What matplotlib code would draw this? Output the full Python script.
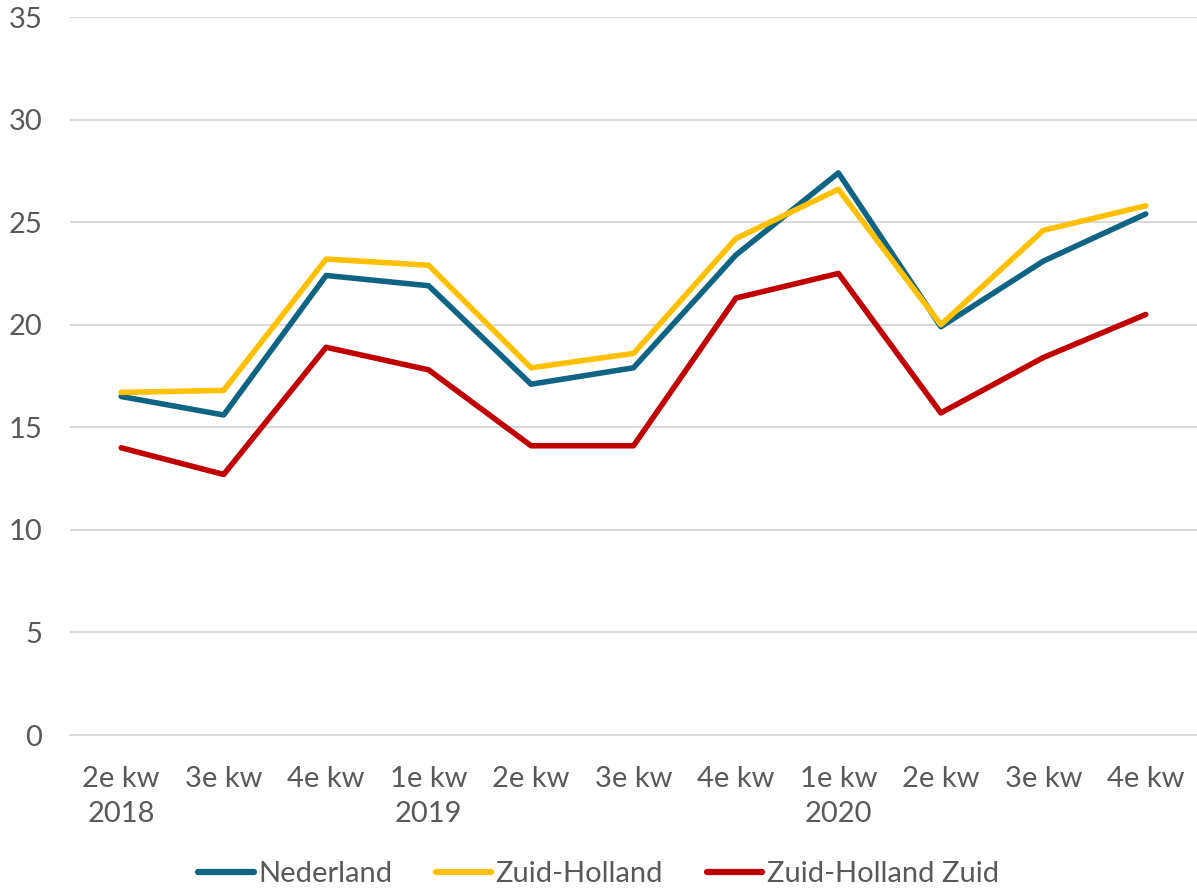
import matplotlib.pyplot as plt

plt.rcParams['font.family'] = ['Lato', 'DejaVu Sans']

kwartalen = ["2e kw\n2018", "3e kw", "4e kw", "1e kw\n2019", "2e kw", "3e kw",
             "4e kw", "1e kw\n2020", "2e kw", "3e kw", "4e kw"]
nederland = [16.5, 15.6, 22.4, 21.9, 17.1, 17.9, 23.4, 27.4, 19.9, 23.1, 25.4]
zuid_holland = [16.7, 16.8, 23.2, 22.9, 17.9, 18.6, 24.2, 26.6, 20.0, 24.6, 25.8]
zh_zuid = [14.0, 12.7, 18.9, 17.8, 14.1, 14.1, 21.3, 22.5, 15.7, 18.4, 20.5]

grey = "#595959"

fig = plt.figure(figsize=(11.97, 8.90), dpi=100)
ax = fig.add_axes([70 / 1197, 1 - 735 / 890, 1127 / 1197, 718 / 890])

x = range(len(kwartalen))
style = dict(lw=4.0, solid_joinstyle="round", solid_capstyle="round")
ax.plot(x, nederland, color="#0E6482", label="Nederland", **style)
ax.plot(x, zuid_holland, color="#FFC000", label="Zuid-Holland", **style)
ax.plot(x, zh_zuid, color="#C00000", label="Zuid-Holland Zuid", **style)

ax.set_xlim(-0.5, len(kwartalen) - 0.5)
ax.set_ylim(0, 35)
ax.set_yticks(range(0, 36, 5))
ax.set_xticks(list(x))
ax.set_xticklabels(kwartalen, linespacing=1.45)
ax.yaxis.grid(True, color="#D9D9D9", lw=1.5)
ax.set_axisbelow(True)
for s in ax.spines.values():
    s.set_visible(False)
ax.spines["bottom"].set_visible(True)
ax.spines["bottom"].set_color("#D9D9D9")
ax.spines["bottom"].set_linewidth(1.5)
ax.tick_params(axis="both", length=0, labelsize=21, colors=grey)
ax.tick_params(axis="y", pad=20)
ax.tick_params(axis="x", pad=22)

leg = fig.legend(loc="lower center", bbox_to_anchor=(0.5, -0.026), ncol=3, frameon=False,
                 fontsize=21, handlelength=1.9, columnspacing=1.5, handletextpad=0.15)
for t in leg.get_texts():
    t.set_color(grey)
for h in leg.get_lines():
    h.set_linewidth(4.5)

fig.savefig("out.png", dpi=100)
